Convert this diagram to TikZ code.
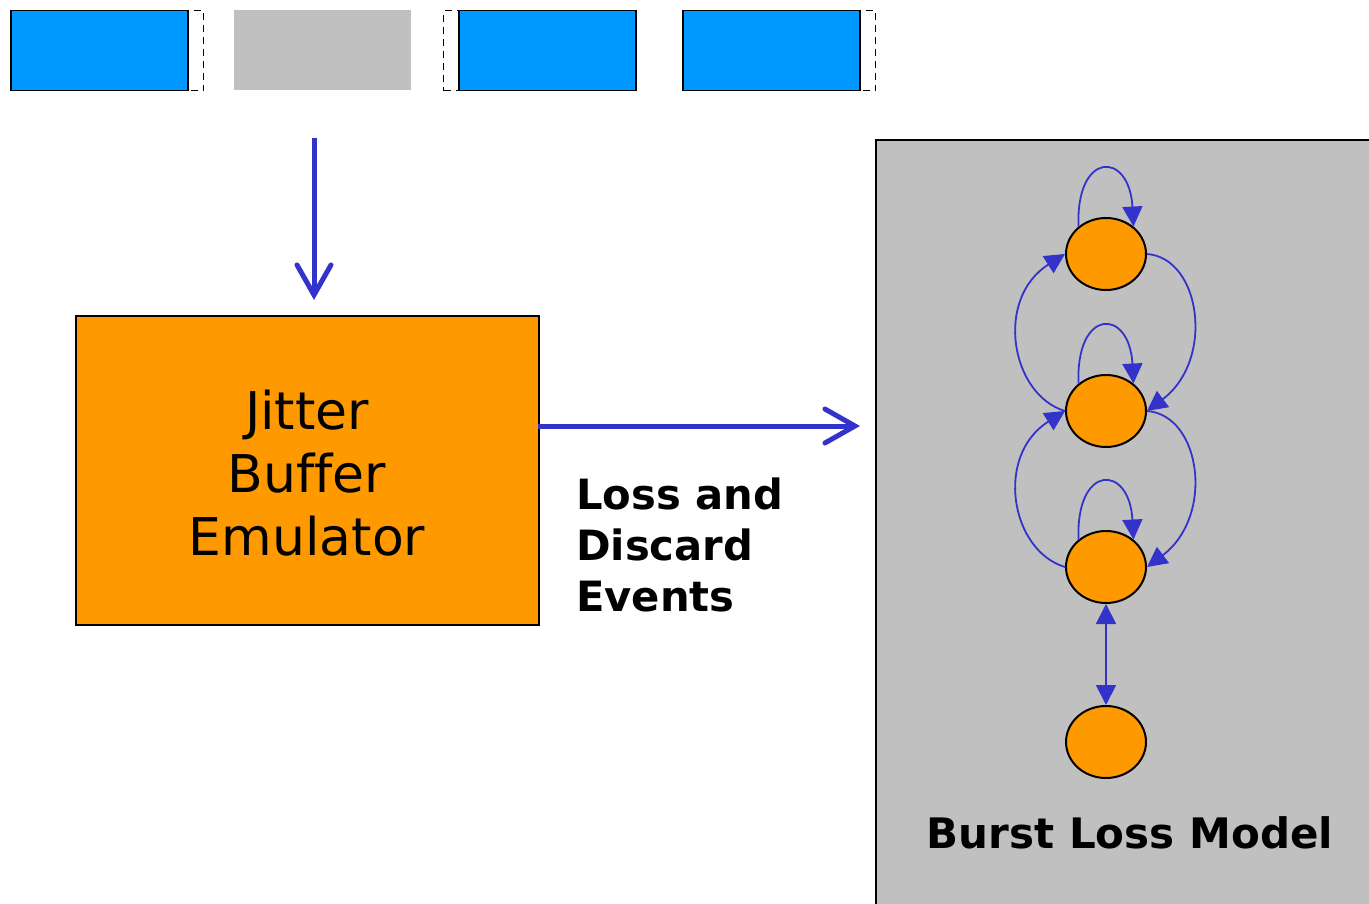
\documentclass[tikz,border=0pt]{standalone}
\usepackage{fontspec}
\setmainfont{DejaVu Sans}
\usetikzlibrary{arrows.meta,shapes.geometric}
\definecolor{pktblue}{HTML}{0099FF}
\definecolor{orng}{HTML}{FF9900}
\definecolor{gry}{HTML}{C0C0C0}
\definecolor{arr}{HTML}{3333CC}
\tikzset{
  pkt/.style={draw=black, line width=1.5pt, fill=pktblue, anchor=north west, minimum width=177pt, minimum height=80pt, inner sep=0pt},
  lostpkt/.style={fill=gry, anchor=north west, minimum width=177pt, minimum height=80pt, inner sep=0pt},
  gap/.style={draw=black, line width=1.2pt, dash pattern=on 7pt off 5pt, anchor=north west, minimum height=80pt, inner sep=0pt},
  bigarrow/.style={draw=arr, line width=5pt, -{Straight Barb[length=30pt,width=34pt,line cap=round]}},
  state/.style={ellipse, draw=black, line width=2pt, fill=orng, minimum width=80pt, minimum height=72pt, inner sep=0pt},
  tr/.style={draw=arr, line width=1.8pt, -{Triangle[length=20pt,width=20pt]}},
}
\begin{document}
\begin{tikzpicture}[x=1pt,y=-1pt]
\useasboundingbox (0,0) rectangle (1369,904);
\path[clip] (0,0) rectangle (1369,904);
\fill[white] (0,0) rectangle (1369,904);
% packets
\node[gap, minimum width=193pt] (g1) at (10,10) {};
\node[pkt] (p1) at (10,10) {};
\node[lostpkt] (p2) at (234,10) {};
\node[gap, minimum width=192pt] (g3) at (443,10) {};
\node[pkt] (p3) at (458,10) {};
\node[gap, minimum width=193pt] (g4) at (682,10) {};
\node[pkt] (p4) at (682,10) {};
% jitter buffer
\node[draw=black, line width=2pt, fill=orng, anchor=north west, minimum width=463pt, minimum height=309pt, inner sep=0pt] (jb) at (75,315) {};
\node[align=center, font=\fontsize{52}{63}\selectfont, inner sep=0pt] (jbt) at (307,473) {Jitter\\Buf\kern0ptfer\\Emulator};
\coordinate (din) at (314,138);
\coordinate (dtip) at (314,300);
\draw[bigarrow] (din) -- (dtip);
% burst loss panel
\node[draw=black, line width=2pt, fill=gry, anchor=north west, minimum width=520pt, minimum height=790pt, inner sep=0pt] (panel) at (875,139) {};
\coordinate (rs) at (538,426);
\coordinate (rtip) at (860,426);
\draw[bigarrow] (rs) -- (rtip);
\node[align=left, anchor=north west, inner sep=0pt, font=\bfseries\fontsize{41.7}{51}\selectfont] (ev) at (576,478) {Loss and\\Discard\\Events};
\node[anchor=base, inner sep=0pt, font=\bfseries\fontsize{42}{50}\selectfont] (blm) at (1130,848) {Burst Loss Model};
% states
\node[state] (s1) at (1106,254) {};
\node[state] (s2) at (1106,411) {};
\node[state] (s3) at (1106,567) {};
\node[state] (s4) at (1106,742) {};
\foreach \s in {s1,s2,s3}{
  \draw[tr] (\s.135) .. controls +(-3,-76) and +(-4,-76) .. (\s.45);
}
\draw[tr] (s2.west) .. controls +(-54,-16) and +(-71,45) .. (s1.west);
\draw[tr] (s3.west) .. controls +(-54,-16) and +(-71,45) .. (s2.west);
\draw[tr] (s1.east) .. controls +(54,4) and +(68,-51) .. (s2.east);
\draw[tr] (s2.east) .. controls +(54,4) and +(68,-51) .. (s3.east);
\draw[draw=arr, line width=1.8pt, {Triangle[length=20pt,width=20pt]}-{Triangle[length=20pt,width=20pt]}] (s3.south) -- (s4.north);
\end{tikzpicture}
\end{document}
